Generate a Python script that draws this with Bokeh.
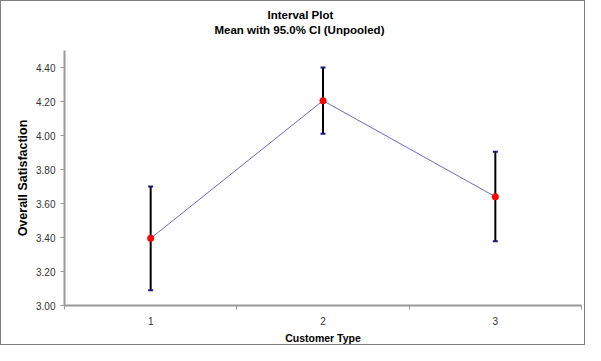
from bokeh.plotting import figure
from bokeh.models import (ColumnDataSource, FixedTicker, Whisker, TeeHead, Title,
                          Range1d, NumeralTickFormatter)
from bokeh.embed import file_html
from bokeh.resources import INLINE

categories = ["1", "2", "3"]
means = [3.395, 4.205, 3.64]
upper = [3.70, 4.40, 3.905]
lower = [3.09, 4.01, 3.378]
y_ticks = [3.00, 3.20, 3.40, 3.60, 3.80, 4.00, 4.20, 4.40]

title_lines = ["Interval Plot", "Mean with 95.0% CI (Unpooled)"]
x_title = "Customer Type"
y_title = "Overall Satisfaction"

xpos = [i + 1 for i in range(len(categories))]
src = ColumnDataSource(dict(x=xpos, mean=means, upper=upper, lower=lower))

FONT = "Liberation Sans"

p = figure(width=585, height=345, output_backend="svg", toolbar_location=None,
           x_range=Range1d(0.5, 3.5), y_range=Range1d(3.0, 4.5),
           min_border_left=63, min_border_right=5, min_border_top=49, min_border_bottom=40)
p.outline_line_color = None
p.grid.visible = False
p.background_fill_color = "white"
p.border_fill_color = "white"
p.styles = {"border": "1px solid #808080"}

# x axis
p.xaxis.ticker = FixedTicker(ticks=xpos, minor_ticks=[0.5, 1.5, 2.5, 3.5])
p.xaxis.major_label_overrides = {x: c for x, c in zip(xpos, categories)}
p.xaxis.major_tick_out = 0
p.xaxis.major_tick_in = 0
p.xaxis.minor_tick_out = 4
p.xaxis.minor_tick_in = 0
p.xaxis.minor_tick_line_color = "#999999"
p.xaxis.minor_tick_line_width = 1
p.xaxis.axis_line_color = "#999999"
p.xaxis.axis_line_width = 2
p.xaxis.major_label_standoff = 7
p.xaxis.axis_label = x_title
p.xaxis.axis_label_standoff = 4
p.xaxis.axis_label_text_font_size = "10.5px"

# y axis
p.yaxis.ticker = FixedTicker(ticks=y_ticks)
p.yaxis.formatter = NumeralTickFormatter(format="0.00")
p.yaxis.major_tick_out = 4
p.yaxis.major_tick_in = 0
p.yaxis.minor_tick_out = 0
p.yaxis.minor_tick_in = 0
p.yaxis.major_tick_line_color = "#999999"
p.yaxis.axis_line_color = "#999999"
p.yaxis.axis_line_width = 2
p.yaxis.major_label_standoff = 5
p.yaxis.axis_label = y_title
p.yaxis.axis_label_standoff = 3
p.yaxis.axis_label_text_font_size = "12.5px"

for ax in (p.xaxis, p.yaxis):
    ax.major_label_text_font = FONT
    ax.major_label_text_font_size = "10px"
    ax.major_label_text_color = "#333333"
    ax.axis_label_text_font = FONT
    ax.axis_label_text_font_style = "bold"
    ax.axis_label_text_color = "black"

# connecting line
p.line("x", "mean", source=src, line_color="#6b6bc8", line_width=1)

# error bars
w = Whisker(base="x", upper="upper", lower="lower", source=src, dimension="height",
            line_color="black", line_width=2,
            upper_head=TeeHead(size=5, line_color="#1a1a80", line_width=2),
            lower_head=TeeHead(size=5, line_color="#1a1a80", line_width=2))
p.add_layout(w)

# means
p.scatter("x", "mean", source=src, size=7, fill_color="red", line_color=None)

# spacer between plot area and the two title lines
p.add_layout(Title(text=" ", text_font_size="1px", standoff=11), "above")

# title: second line first (closest to plot), then first line above it
offsets = [203, 150]
for t, off in reversed(list(zip(title_lines, offsets))):
    p.add_layout(Title(text=t, align="left", offset=off, standoff=1,
                       text_font=FONT, text_font_size="11.5px", text_font_style="bold",
                       text_color="black"), "above")

open("out.html", "w").write(file_html(p, INLINE))
